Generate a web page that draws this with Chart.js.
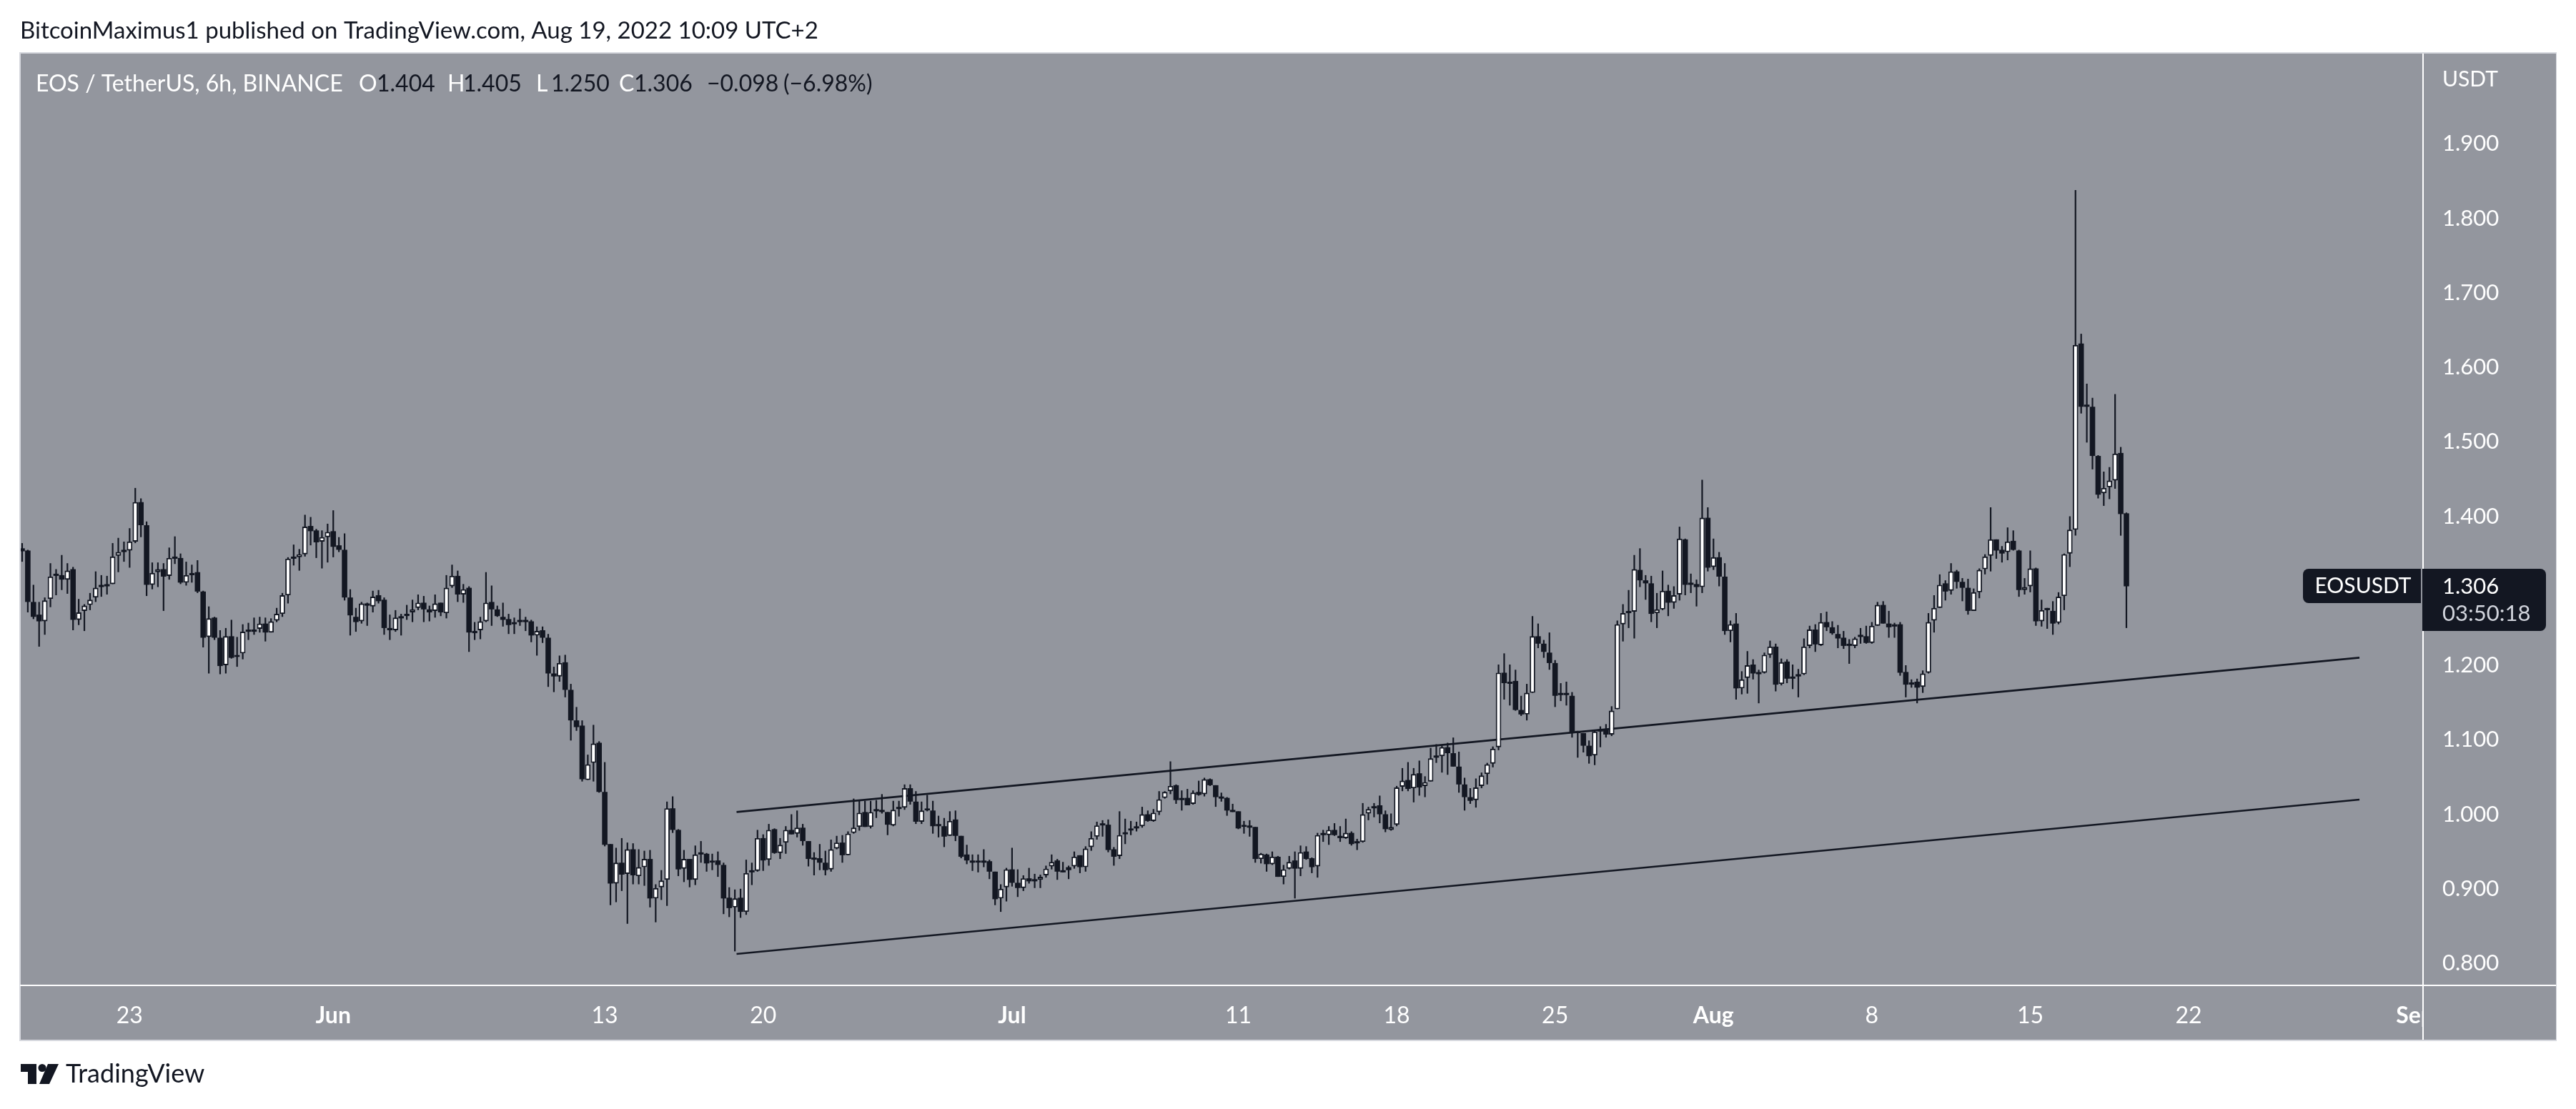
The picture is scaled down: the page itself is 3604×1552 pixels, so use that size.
<!DOCTYPE html>
<html>
<head>
<meta charset="utf-8">
<style>html,body{margin:0;padding:0;background:#fff}#wrap{width:3604px;height:1552px;position:relative}</style>
<script src="https://cdn.jsdelivr.net/npm/chart.js@4"></script>
</head>
<body>
<div id="wrap"><canvas id="c" width="3604" height="1552"></canvas></div>
<script>
const opens = [
1.357,1.354,1.285,1.268,1.259,1.289,1.321,1.321,1.315,1.329,
1.261,1.273,1.281,1.291,1.306,1.307,1.309,1.347,1.355,1.354,
1.366,1.419,1.388,1.308,1.325,1.329,1.320,1.344,1.344,1.311,
1.321,1.325,1.299,1.238,1.264,1.237,1.200,1.239,1.211,1.216,
1.246,1.248,1.249,1.256,1.244,1.260,1.269,1.294,1.345,1.345,
1.349,1.387,1.381,1.366,1.372,1.380,1.361,1.355,1.291,1.265,
1.259,1.283,1.279,1.294,1.288,1.250,1.247,1.264,1.266,1.271,
1.277,1.284,1.275,1.273,1.284,1.270,1.306,1.320,1.295,1.304,
1.243,1.247,1.259,1.285,1.275,1.265,1.262,1.255,1.259,1.259,
1.259,1.240,1.247,1.237,1.189,1.185,1.204,1.167,1.126,1.119,
1.046,1.069,1.096,1.030,0.960,0.907,0.935,0.920,0.953,0.917,
0.929,0.940,0.887,0.902,0.912,1.008,0.979,0.927,0.940,0.912,
0.947,0.947,0.935,0.938,0.932,0.888,0.875,0.888,0.869,0.923,
0.924,0.968,0.939,0.980,0.948,0.962,0.979,0.974,0.982,0.964,
0.940,0.941,0.935,0.926,0.954,0.962,0.945,0.975,0.983,1.003,
0.983,1.005,1.005,1.003,0.985,1.008,1.009,1.035,1.017,0.990,
1.005,1.005,0.985,0.984,0.971,0.993,0.971,0.946,0.937,0.935,
0.936,0.937,0.923,0.887,0.902,0.926,0.908,0.901,0.914,0.911,
0.912,0.918,0.930,0.938,0.924,0.929,0.930,0.945,0.929,0.956,
0.970,0.986,0.986,0.953,0.944,0.973,0.978,0.983,0.984,1.000,
0.991,1.003,1.022,1.031,1.039,1.021,1.022,1.014,1.030,1.027,
1.047,1.039,1.022,1.022,1.004,1.004,0.983,0.983,0.983,0.940,
0.946,0.933,0.943,0.916,0.927,0.938,0.927,0.950,0.941,0.930,
0.973,0.972,0.979,0.971,0.968,0.975,0.962,0.963,1.001,1.010,
1.012,1.000,0.979,0.986,1.037,1.046,1.035,1.055,1.038,1.044,
1.077,1.078,1.090,1.082,1.064,1.040,1.023,1.019,1.038,1.054,
1.068,1.090,1.190,1.175,1.179,1.140,1.134,1.163,1.239,1.229,
1.217,1.203,1.161,1.161,1.159,1.110,1.109,1.092,1.079,1.112,
1.114,1.107,1.141,1.255,1.271,1.272,1.328,1.314,1.310,1.270,
1.275,1.300,1.284,1.295,1.369,1.309,1.309,1.305,1.398,1.332,
1.345,1.319,1.246,1.256,1.169,1.183,1.201,1.189,1.190,1.214,
1.225,1.175,1.205,1.183,1.188,1.188,1.226,1.248,1.227,1.258,
1.251,1.242,1.237,1.227,1.226,1.240,1.239,1.230,1.253,1.281,
1.256,1.254,1.255,1.191,1.174,1.178,1.171,1.190,1.260,1.277,
1.310,1.300,1.326,1.312,1.304,1.273,1.298,1.329,1.347,1.369,
1.355,1.352,1.367,1.354,1.301,1.306,1.330,1.259,1.275,1.273,
1.257,1.293,1.350,1.382,1.632,1.548,1.547,1.481,1.431,1.439,
1.448,1.485,1.404];
const closes = [
1.353,1.285,1.265,1.259,1.287,1.319,1.320,1.315,1.327,1.261,
1.271,1.280,1.288,1.304,1.305,1.306,1.346,1.352,1.352,1.366,
1.419,1.388,1.308,1.324,1.329,1.319,1.344,1.343,1.311,1.321,
1.324,1.299,1.237,1.263,1.237,1.199,1.239,1.210,1.214,1.245,
1.245,1.245,1.256,1.244,1.259,1.269,1.294,1.343,1.343,1.349,
1.386,1.380,1.365,1.372,1.379,1.359,1.355,1.291,1.267,1.258,
1.283,1.280,1.292,1.286,1.250,1.247,1.264,1.263,1.269,1.275,
1.284,1.275,1.271,1.283,1.271,1.304,1.320,1.295,1.302,1.244,
1.246,1.259,1.284,1.275,1.266,1.261,1.254,1.258,1.258,1.258,
1.240,1.246,1.237,1.189,1.185,1.203,1.167,1.126,1.117,1.047,
1.067,1.095,1.030,0.959,0.907,0.935,0.919,0.953,0.918,0.929,
0.940,0.887,0.901,0.911,1.008,0.979,0.926,0.940,0.912,0.946,
0.946,0.934,0.937,0.932,0.887,0.874,0.887,0.869,0.921,0.922,
0.968,0.938,0.979,0.948,0.959,0.979,0.973,0.982,0.964,0.940,
0.939,0.935,0.925,0.953,0.962,0.945,0.974,0.982,1.002,0.983,
1.003,1.004,1.003,0.986,1.006,1.007,1.035,1.017,0.990,1.005,
1.005,0.984,0.984,0.970,0.991,0.971,0.943,0.938,0.935,0.935,
0.935,0.923,0.886,0.900,0.926,0.908,0.901,0.914,0.910,0.910,
0.916,0.927,0.936,0.923,0.922,0.925,0.943,0.929,0.954,0.968,
0.985,0.985,0.952,0.943,0.972,0.976,0.981,0.981,1.000,0.991,
1.002,1.020,1.030,1.038,1.019,1.019,1.012,1.029,1.026,1.047,
1.039,1.023,1.021,1.005,1.003,0.981,0.983,0.982,0.940,0.947,
0.933,0.943,0.916,0.926,0.936,0.927,0.949,0.940,0.929,0.972,
0.972,0.979,0.972,0.968,0.975,0.960,0.961,1.000,1.007,1.008,
1.000,0.980,0.983,1.036,1.045,1.034,1.054,1.036,1.043,1.075,
1.076,1.090,1.082,1.064,1.040,1.023,1.018,1.036,1.052,1.067,
1.088,1.190,1.176,1.178,1.140,1.134,1.163,1.239,1.229,1.218,
1.203,1.159,1.160,1.160,1.109,1.109,1.092,1.078,1.111,1.111,
1.107,1.139,1.255,1.270,1.270,1.329,1.314,1.310,1.269,1.275,
1.300,1.284,1.294,1.370,1.308,1.308,1.305,1.398,1.331,1.345,
1.319,1.246,1.255,1.169,1.181,1.200,1.189,1.188,1.214,1.225,
1.174,1.204,1.182,1.182,1.185,1.225,1.248,1.228,1.258,1.251,
1.243,1.236,1.226,1.226,1.236,1.238,1.230,1.253,1.281,1.256,
1.251,1.252,1.190,1.174,1.177,1.170,1.189,1.258,1.277,1.308,
1.299,1.326,1.312,1.304,1.273,1.298,1.328,1.346,1.369,1.354,
1.350,1.366,1.355,1.301,1.305,1.330,1.259,1.274,1.274,1.256,
1.292,1.349,1.382,1.630,1.547,1.547,1.481,1.429,1.438,1.448,
1.484,1.403,1.306];
const highs = [
1.364,1.355,1.308,1.285,1.291,1.337,1.329,1.348,1.337,1.332,
1.289,1.282,1.297,1.326,1.321,1.320,1.364,1.371,1.366,1.384,
1.438,1.424,1.393,1.338,1.338,1.337,1.358,1.373,1.350,1.339,
1.335,1.341,1.300,1.279,1.265,1.247,1.250,1.261,1.238,1.255,
1.257,1.264,1.265,1.264,1.263,1.277,1.297,1.345,1.362,1.356,
1.402,1.399,1.383,1.381,1.390,1.408,1.372,1.377,1.302,1.277,
1.285,1.284,1.300,1.301,1.291,1.268,1.274,1.269,1.281,1.288,
1.295,1.293,1.280,1.295,1.284,1.321,1.335,1.327,1.309,1.306,
1.258,1.265,1.325,1.307,1.280,1.284,1.269,1.264,1.276,1.265,
1.261,1.252,1.252,1.242,1.198,1.213,1.214,1.175,1.144,1.126,
1.080,1.120,1.098,1.070,0.960,0.955,0.968,0.962,0.961,0.953,
0.951,0.952,0.906,0.925,1.017,1.024,0.980,0.952,0.940,0.958,
0.964,0.948,0.947,0.950,0.935,0.902,0.899,0.900,0.939,0.935,
0.979,0.973,0.987,0.981,0.968,0.984,1.000,1.005,0.987,0.964,
0.949,0.960,0.951,0.966,0.971,0.972,0.977,1.021,1.018,1.018,
1.018,1.019,1.027,1.003,1.018,1.018,1.040,1.040,1.031,1.017,
1.026,1.018,0.998,0.995,1.004,1.005,0.971,0.959,0.946,0.946,
0.953,0.939,0.923,0.906,0.928,0.955,0.926,0.918,0.928,0.920,
0.919,0.931,0.946,0.940,0.936,0.931,0.950,0.945,0.957,0.977,
0.990,0.992,0.993,0.956,1.004,0.994,0.991,0.990,1.010,1.005,
1.007,1.031,1.031,1.071,1.040,1.032,1.034,1.032,1.045,1.049,
1.048,1.039,1.029,1.023,1.014,1.004,0.991,0.992,0.983,0.948,
0.947,0.950,0.944,0.932,0.944,0.950,0.958,0.957,0.942,0.975,
0.979,0.984,0.988,0.984,0.994,0.977,0.967,1.015,1.010,1.015,
1.025,1.005,1.001,1.038,1.062,1.070,1.062,1.072,1.051,1.089,
1.094,1.092,1.096,1.103,1.084,1.049,1.035,1.048,1.056,1.069,
1.091,1.201,1.216,1.201,1.194,1.159,1.175,1.266,1.256,1.234,
1.244,1.207,1.176,1.178,1.164,1.112,1.109,1.099,1.112,1.118,
1.121,1.145,1.260,1.282,1.301,1.348,1.357,1.321,1.320,1.297,
1.327,1.308,1.306,1.386,1.370,1.323,1.315,1.449,1.412,1.370,
1.352,1.337,1.260,1.270,1.192,1.219,1.208,1.194,1.217,1.233,
1.229,1.209,1.208,1.201,1.195,1.236,1.253,1.255,1.270,1.272,
1.259,1.254,1.246,1.235,1.238,1.250,1.253,1.258,1.285,1.286,
1.273,1.257,1.258,1.200,1.181,1.182,1.193,1.270,1.294,1.322,
1.314,1.337,1.328,1.317,1.316,1.303,1.330,1.349,1.412,1.369,
1.360,1.385,1.381,1.355,1.317,1.354,1.331,1.288,1.277,1.286,
1.298,1.350,1.400,1.838,1.645,1.578,1.559,1.482,1.460,1.466,
1.564,1.493,1.405];
const lows = [
1.339,1.271,1.262,1.225,1.241,1.278,1.294,1.301,1.296,1.247,
1.254,1.246,1.274,1.285,1.292,1.295,1.309,1.325,1.339,1.331,
1.364,1.372,1.293,1.302,1.305,1.273,1.315,1.336,1.309,1.307,
1.311,1.297,1.224,1.189,1.234,1.188,1.189,1.209,1.198,1.208,
1.234,1.241,1.244,1.232,1.244,1.258,1.265,1.283,1.334,1.327,
1.346,1.361,1.344,1.330,1.338,1.345,1.352,1.287,1.240,1.245,
1.256,1.253,1.271,1.283,1.241,1.234,1.245,1.240,1.261,1.258,
1.274,1.258,1.259,1.264,1.266,1.263,1.304,1.285,1.284,1.218,
1.234,1.235,1.258,1.253,1.265,1.252,1.242,1.242,1.253,1.246,
1.231,1.213,1.230,1.171,1.164,1.178,1.157,1.099,1.112,1.044,
1.046,1.044,1.029,0.957,0.878,0.882,0.897,0.853,0.906,0.906,
0.904,0.875,0.855,0.885,0.877,0.975,0.917,0.909,0.902,0.905,
0.935,0.923,0.925,0.916,0.866,0.862,0.816,0.861,0.865,0.905,
0.923,0.924,0.931,0.947,0.940,0.947,0.973,0.969,0.958,0.930,
0.918,0.925,0.918,0.923,0.953,0.935,0.945,0.974,0.978,0.983,
0.981,0.995,1.001,0.972,0.984,0.997,1.006,1.013,0.987,0.987,
1.004,0.974,0.969,0.956,0.971,0.964,0.941,0.933,0.924,0.922,
0.929,0.913,0.878,0.869,0.883,0.903,0.889,0.897,0.907,0.901,
0.901,0.915,0.926,0.912,0.922,0.913,0.927,0.921,0.923,0.951,
0.966,0.970,0.949,0.931,0.940,0.960,0.972,0.977,0.982,0.990,
0.990,0.999,1.021,1.027,1.014,1.005,1.012,1.013,1.025,1.024,
1.038,1.010,1.017,0.998,1.003,0.980,0.974,0.970,0.935,0.934,
0.923,0.932,0.916,0.906,0.926,0.887,0.917,0.939,0.921,0.915,
0.963,0.959,0.971,0.963,0.967,0.958,0.952,0.962,0.992,0.996,
0.988,0.976,0.978,0.984,1.031,1.031,1.016,1.025,1.023,1.044,
1.069,1.056,1.053,1.064,1.029,1.005,1.014,1.009,1.035,1.040,
1.063,1.086,1.154,1.146,1.139,1.132,1.126,1.163,1.223,1.210,
1.194,1.144,1.152,1.146,1.103,1.076,1.083,1.068,1.066,1.090,
1.103,1.105,1.141,1.232,1.250,1.236,1.305,1.288,1.258,1.250,
1.274,1.266,1.276,1.287,1.294,1.297,1.279,1.297,1.326,1.328,
1.306,1.241,1.231,1.154,1.161,1.162,1.181,1.149,1.189,1.210,
1.165,1.173,1.176,1.168,1.157,1.187,1.223,1.218,1.226,1.246,
1.241,1.223,1.222,1.202,1.223,1.229,1.229,1.229,1.253,1.256,
1.237,1.237,1.186,1.157,1.170,1.149,1.163,1.189,1.244,1.277,
1.287,1.295,1.303,1.286,1.268,1.273,1.290,1.322,1.326,1.343,
1.338,1.341,1.354,1.292,1.295,1.298,1.253,1.252,1.249,1.241,
1.255,1.274,1.332,1.374,1.538,1.499,1.463,1.424,1.414,1.423,
1.437,1.374,1.250];

const priceTicks = [0.8,0.9,1.0,1.1,1.2,1.3,1.4,1.5,1.6,1.7,1.8,1.9];
const timeTickBars = [19,55,103,131,175,215,243,271,299,327,355,383,423];
const timeTickLabels = ['23','Jun','13','20','Jul','11','18','25','Aug','8','15','22','Sep'];
const boldTimeLabels = ['Jun','Jul','Aug','Sep'];
const channelBars = [126.3,413.2];
const channelUpper = [1.003,1.2102];
const channelLower = [0.8125,1.0197];
const lastPrice = 1.306;

const DARK='#131722', BG='#93969e', EDGE='#d6d8de';
const FF='Lato, sans-serif';
const F = 32;

function txt(ctx,s,x,y,color,font,align){
  ctx.fillStyle=color; ctx.font=font||(F+'px '+FF); ctx.textAlign=align||'left'; ctx.textBaseline='middle';
  ctx.fillText(s,x,y);
}

const chrome = {
  id:'chrome',
  beforeDraw(chart){
    const c=chart.ctx; c.save();
    c.fillStyle='#fff'; c.fillRect(0,0,3604,1552);
    c.fillStyle=BG; c.fillRect(28,74,3548,1382);
    c.strokeStyle=EDGE; c.lineWidth=2; c.strokeRect(28,74,3548,1382);
    txt(c,'BitcoinMaximus1 published on TradingView.com, Aug 19, 2022 10:09 UTC+2',28,43,DARK,'33px '+FF);
    c.fillStyle=DARK;
    c.fillRect(29,1489,22,11); c.fillRect(39,1489,12,28);
    c.beginPath(); c.arc(59,1494.5,5.5,0,Math.PI*2); c.fill();
    c.beginPath(); c.moveTo(82,1489); c.lineTo(69,1517); c.lineTo(55,1517); c.lineTo(67,1489); c.closePath(); c.fill();
    txt(c,'TradingView',92,1503,DARK,'36px '+FF);
    c.restore();
  },
  beforeDatasetsDraw(chart){
    const c=chart.ctx, a=chart.chartArea; c.save();
    // the price gutter cuts off the last time label
    c.fillStyle=BG; c.fillRect(a.right,a.top,3576-a.right,1455-a.top);
    c.fillStyle='#fff';
    c.fillRect(a.right-1,a.top,2,1455-a.top);
    c.fillRect(28,a.bottom-1,3548,2);
    c.restore();
  },
  afterDraw(chart){
    const c=chart.ctx, a=chart.chartArea, y=chart.scales.y; c.save();
    const yL=118;
    txt(c,'EOS / TetherUS, 6h, BINANCE',50,yL,'#fff');
    const W='#fff';
    [['O',502,W],['1.404',527,DARK],['H',626,W],['1.405',648,DARK],['L',750,W],['1.250',771,DARK],['C',866,W],['1.306',887,DARK],['\u22120.098',989,DARK],['(\u22126.98%)',1096,DARK]]
      .forEach(r=>txt(c,r[0],r[1],yL,r[2]));
    txt(c,'USDT',3417,111,'#fff','30px '+FF);
    const py=y.getPixelForValue(lastPrice);
    c.fillStyle=DARK;
    c.beginPath(); c.roundRect(3222,py-24.5,165,48,[8,0,0,8]); c.fill();
    c.beginPath(); c.roundRect(a.right-1,py-24.5,173,87,[0,8,8,0]); c.fill();
    txt(c,'EOSUSDT',3306,py,'#fff','30px '+FF,'center');
    txt(c,lastPrice.toFixed(3),3417,py,'#fff','31px '+FF);
    txt(c,'03:50:18',3417,py+38,'#d1d4dc','31px '+FF);
    c.restore();
  }
};

const wickData = highs.map((h,i)=>({x:i,y:[lows[i],h]}));
const bodyData = opens.map((o,i)=>({x:i,y:[o,closes[i]]}));
const isUp = ctx => { const i=ctx.dataIndex; return closes[i]>=opens[i]; };

new Chart(document.getElementById('c'),{
  type:'bar',
  data:{datasets:[
    {label:'Body',data:bodyData,order:1,grouped:false,barThickness:7.6,minBarLength:3,
     backgroundColor:ctx=>isUp(ctx)?'#ffffff':DARK,borderColor:DARK,
     borderWidth:ctx=>isUp(ctx)?1.9:0,borderSkipped:false,inflateAmount:0},
    {label:'Wick',data:wickData,order:2,grouped:false,barThickness:2.2,backgroundColor:DARK,borderWidth:0,inflateAmount:0},
    {type:'line',label:'Channel top',data:channelBars.map((b,i)=>({x:b,y:channelUpper[i]})),order:3,borderColor:DARK,borderWidth:2.6,pointRadius:0,tension:0,clip:false},
    {type:'line',label:'Channel bottom',data:channelBars.map((b,i)=>({x:b,y:channelLower[i]})),order:3,borderColor:DARK,borderWidth:2.6,pointRadius:0,tension:0,clip:false}
  ]},
  options:{
    responsive:false,animation:false,devicePixelRatio:1,
    layout:{padding:{left:29,top:75,right:28,bottom:97}},
    plugins:{legend:{display:false},tooltip:{enabled:false},title:{display:false}},
    scales:{
      x:{type:'linear',offset:false,min:-0.25,max:424.44,
        grid:{display:false,offset:false,drawTicks:false},border:{display:false},
        afterFit(s){s.height=76;},
        afterBuildTicks(s){s.ticks=timeTickBars.map(v=>({value:v}));},
        ticks:{autoSkip:false,maxRotation:0,minRotation:0,padding:23,color:'#fff',
          font:ctx=>{const l=timeTickLabels[ctx.index];return {family:FF,size:F,weight:boldTimeLabels.includes(l)?'700':'400'};},
          callback:(v,i)=>timeTickLabels[i]}},
      y:{type:'linear',position:'right',min:0.7703,max:2.0211,
        grid:{display:false,drawTicks:false},border:{display:false},
        afterFit(s){s.width=186;},
        afterBuildTicks(s){s.ticks=priceTicks.map(v=>({value:v}));},
        ticks:{z:1,padding:27,color:'#fff',font:{family:FF,size:31},
          callback:v=>v.toFixed(3)}}
    }
  },
  plugins:[chrome]
});
</script>
</body>
</html>
